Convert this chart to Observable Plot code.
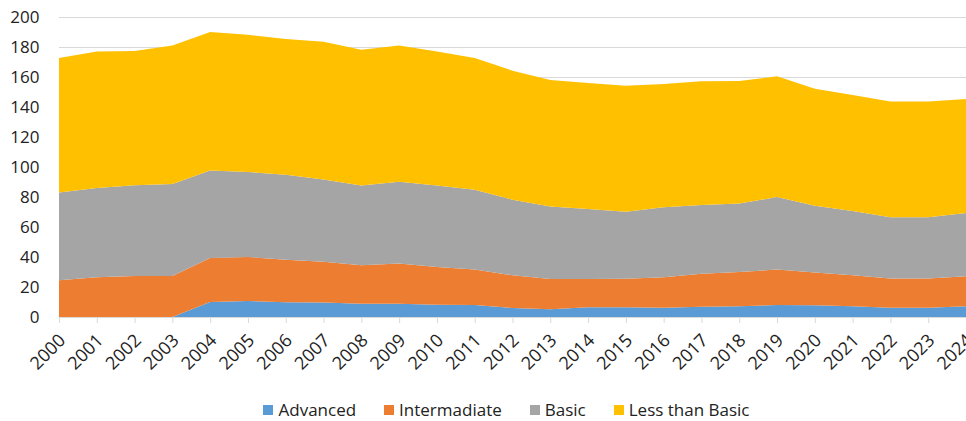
<!DOCTYPE html>
<html>
<head>
<meta charset="utf-8">
<script src="https://cdn.jsdelivr.net/npm/d3@7"></script>
<script src="https://cdn.jsdelivr.net/npm/@observablehq/plot@0.6"></script>
<style>
  html, body { margin: 0; padding: 0; background: #fff; }
  body { width: 966px; height: 421px; overflow: hidden; font-family: "Open Sans", sans-serif; }
  #legend { display: flex; justify-content: center; align-items: center; gap: 28px;
            padding-top: 6px; height: 24px; line-height: 24px; font-size: 17px; color: #222;
            padding-left: 47px; }
  #legend .item { display: flex; align-items: center; gap: 5px; }
  #legend .sw { width: 10px; height: 10px; display: inline-block; }
</style>
</head>
<body>
<div id="chart"></div>
<div id="legend"></div>
<script>
const years = [2000, 2001, 2002, 2003, 2004, 2005, 2006, 2007, 2008, 2009, 2010, 2011,
               2012, 2013, 2014, 2015, 2016, 2017, 2018, 2019, 2020, 2021, 2022, 2023, 2024];
const seriesNames = ["Advanced", "Intermadiate", "Basic", "Less than Basic"];
const seriesColors = ["#5b9bd5", "#ed7d31", "#a5a5a5", "#ffc000"];

const advanced     = [0, 0, 0, 0, 10, 10.7, 9.8, 9.6, 8.9, 8.9, 8.2, 8, 6, 5.1, 6.5, 6.5, 6.2, 6.9, 7.1, 8, 7.8, 7.1, 6.2, 6.2, 7.1];
const intermediate = [24.5, 26.5, 27.3, 27.3, 29.3, 29.3, 28.4, 27.3, 25.6, 26.7, 25.1, 23.6, 21.8, 20.2, 18.8, 19, 20.3, 22, 22.9, 23.6, 21.8, 20.7, 19.4, 19.4, 20];
const basic        = [58.5, 59.5, 60.5, 61.4, 58.3, 56.7, 56.7, 54.7, 53.1, 54.6, 54.3, 53.3, 50.4, 48.3, 46.7, 44.7, 46.6, 45.8, 45.6, 48.4, 44.6, 42.9, 40.9, 40.9, 42.3];
const lessBasic    = [89.7, 91, 89.5, 92.3, 92.4, 91.5, 90.4, 91.9, 90.6, 90.8, 89.4, 87.8, 86, 84.4, 84, 84, 82.2, 82.4, 81.7, 80.5, 78, 77.3, 77.1, 77.1, 76];

const yTicks = [0, 20, 40, 60, 80, 100, 120, 140, 160, 180, 200];

const seriesValues = [advanced, intermediate, basic, lessBasic];
const data = [];
seriesNames.forEach((name, si) => {
  years.forEach((yr, i) => data.push({year: yr, level: name, value: seriesValues[si][i]}));
});

const chart = Plot.plot({
  width: 966,
  height: 392,
  marginLeft: 59,
  marginRight: 0,
  marginTop: 17,
  marginBottom: 75,
  style: {fontFamily: "Open Sans, sans-serif", fontSize: "17px", color: "#222", background: "#fff", overflow: "visible"},
  x: {domain: [2000, 2024], label: null},
  y: {domain: [0, 200], label: null},
  color: {domain: seriesNames, range: seriesColors},
  marks: [
    Plot.gridY(yTicks, {stroke: "#d9d9d9", strokeOpacity: 1, strokeWidth: 1}),
    Plot.areaY(data, {x: "year", y: "value", z: "level", fill: "level", fillOpacity: 1}),
    Plot.ruleY([0], {stroke: "#d9d9d9"}),
    Plot.axisX({ticks: years, tickSize: 6, tickFormat: () => "", stroke: "#d9d9d9", label: null}),
    Plot.axisX({ticks: years, tickSize: 0, tickPadding: 20, tickRotate: -45, tickFormat: d => String(d),
                dx: 3, fill: "#222", fontSize: 18, label: null}),
    Plot.axisY({ticks: yTicks, tickSize: 0, tickPadding: 20, fill: "#222", fontSize: 17, label: null})
  ]
});
document.getElementById("chart").appendChild(chart);

const legend = document.getElementById("legend");
seriesNames.forEach((name, i) => {
  const item = document.createElement("span");
  item.className = "item";
  const sw = document.createElement("span");
  sw.className = "sw";
  sw.style.background = seriesColors[i];
  const tx = document.createElement("span");
  tx.textContent = name;
  item.appendChild(sw);
  item.appendChild(tx);
  legend.appendChild(item);
});
</script>
</body>
</html>
